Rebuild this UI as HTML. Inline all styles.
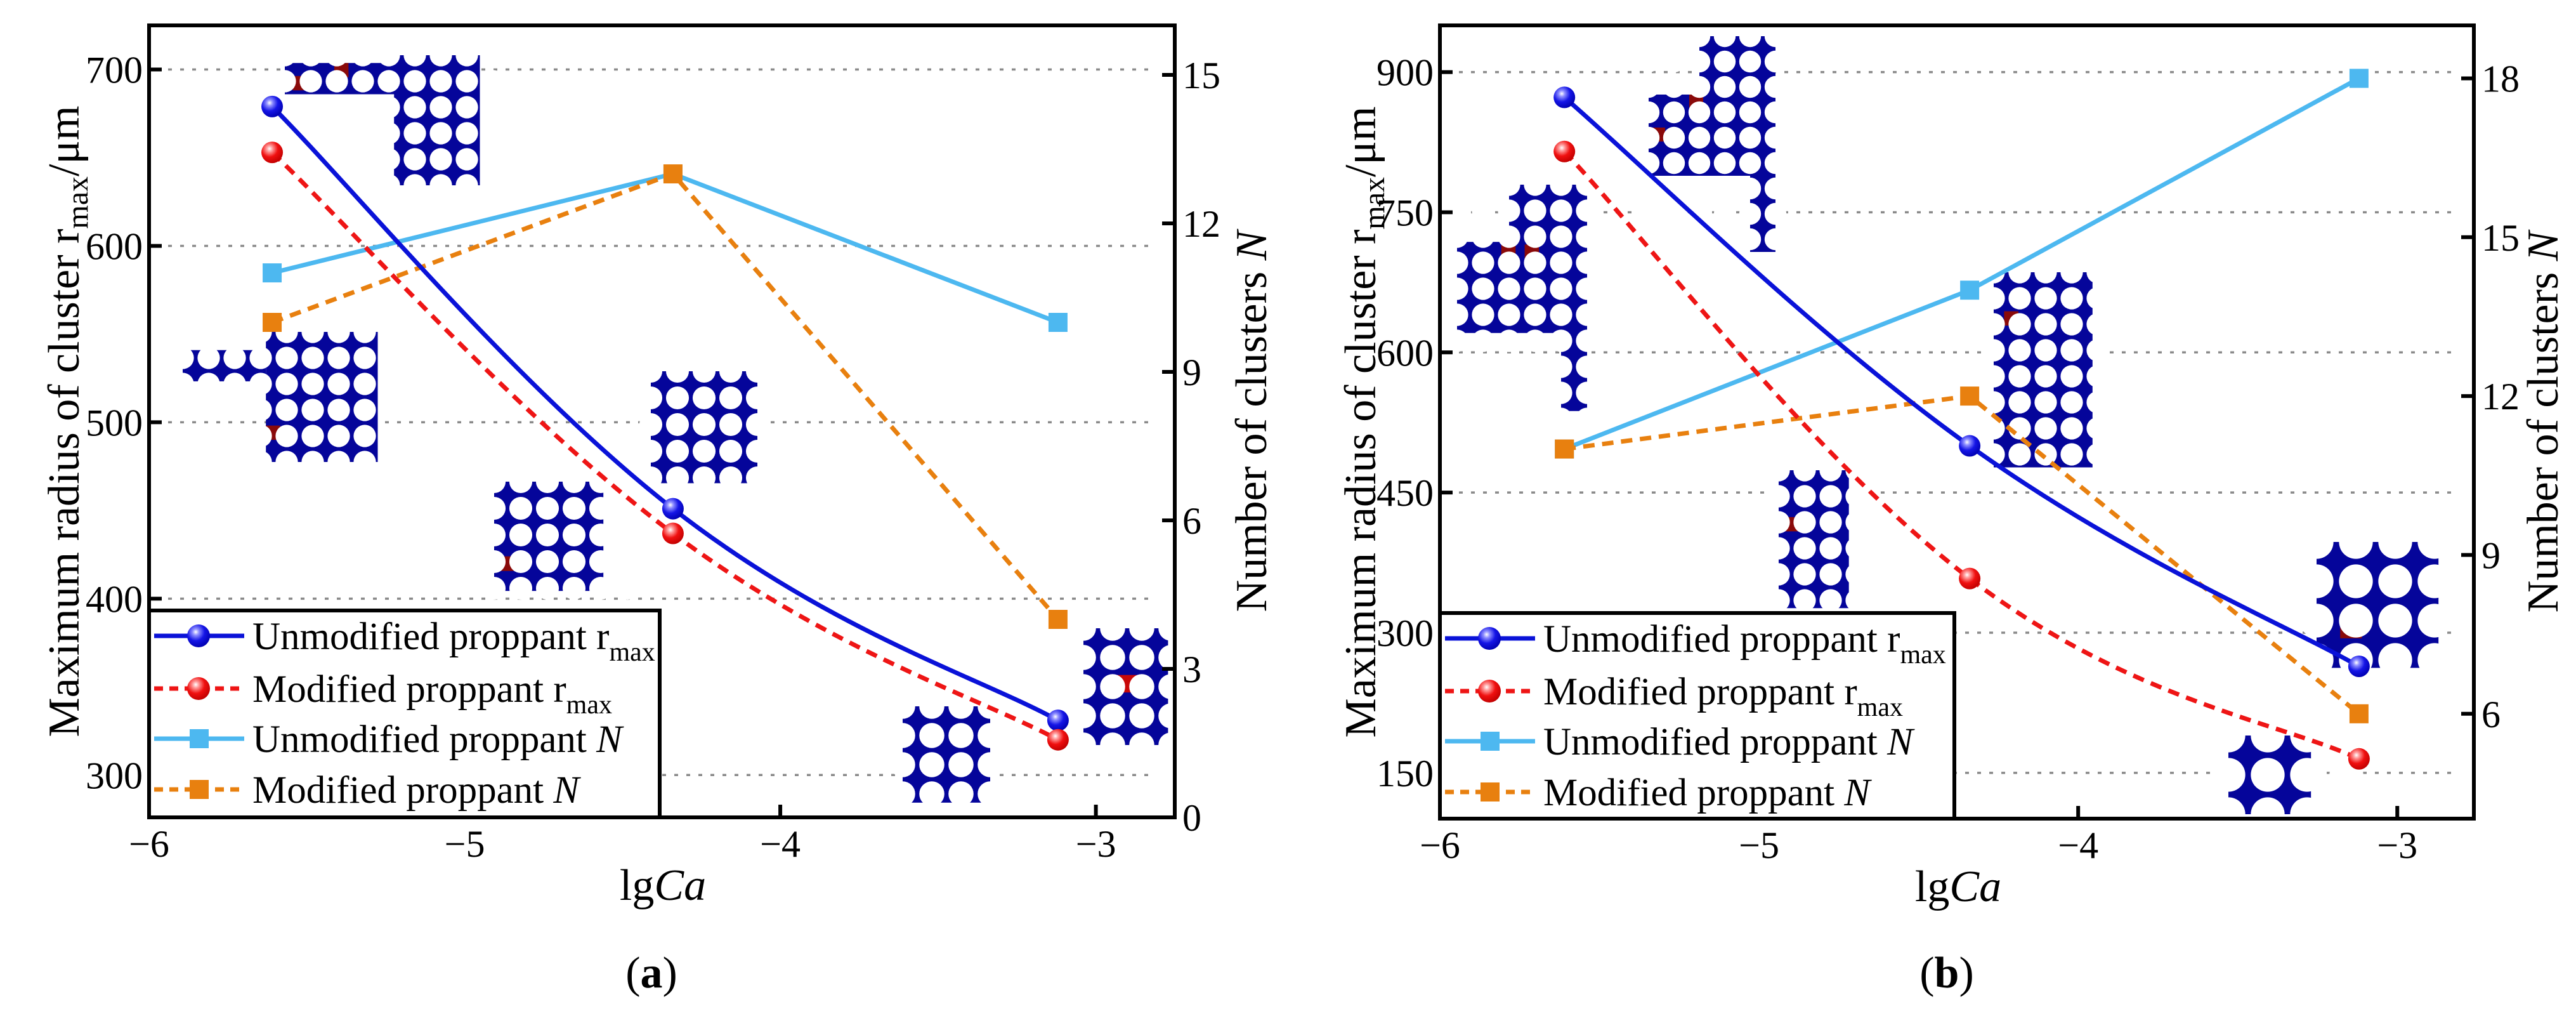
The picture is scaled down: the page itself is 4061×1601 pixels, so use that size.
<!DOCTYPE html>
<html><head><meta charset="utf-8">
<style>
html,body{margin:0;padding:0;background:#fff;}
svg{display:block;font-family:"Liberation Serif",serif;}
</style></head>
<body>
<svg id="fig" width="4061" height="1601" viewBox="0 0 4061 1601" xmlns="http://www.w3.org/2000/svg">
<defs>
<radialGradient id="gBlue" cx="0.38" cy="0.33" r="0.7">
<stop offset="0" stop-color="#ffffff"/><stop offset="0.2" stop-color="#8f8fff"/><stop offset="0.55" stop-color="#1515e6"/><stop offset="1" stop-color="#0000b0"/>
</radialGradient>
<radialGradient id="gRed" cx="0.38" cy="0.33" r="0.7">
<stop offset="0" stop-color="#ffffff"/><stop offset="0.2" stop-color="#ff9a9a"/><stop offset="0.55" stop-color="#f01010"/><stop offset="1" stop-color="#c00000"/>
</radialGradient>
</defs>
</svg>
<script>
// ---- Panel (a) data ----
const lgCaA = [-5.61, -4.34, -3.12];
const unmodRA = [679, 451, 331];
const modRA = [653, 437, 320];
const unmodNA = [11, 13, 10];
const modNA = [10, 13, 4];
const leftTicksA = [300, 400, 500, 600, 700];
const rightTicksA = [0, 3, 6, 9, 12, 15];
// ---- Panel (b) data ----
const lgCaB = [-5.61, -4.34, -3.12];
const unmodRB = [873, 500, 264];
const modRB = [815, 358, 165];
const unmodNB = [11, 14, 18];
const modNB = [11, 12, 6];
const leftTicksB = [150, 300, 450, 600, 750, 900];
const rightTicksB = [6, 9, 12, 15, 18];
const xTicks = [-6, -5, -4, -3];
const seriesNames = ["Unmodified proppant r", "Modified proppant r", "Unmodified proppant ", "Modified proppant "];

const NS = "http://www.w3.org/2000/svg";
const svg = document.getElementById("fig");
function mk(tag, attrs, parent) {
  const e = document.createElementNS(NS, tag);
  for (const k in attrs) e.setAttribute(k, attrs[k]);
  (parent || svg).appendChild(e);
  return e;
}

function cluster(g, x0, y0, s, rects, reds, redMid) {
  const cg = mk("g", {}, g);
  
  
  let minC = 1e9, minR = 1e9, maxC = -1e9, maxR = -1e9;
  rects.forEach(r => {
    mk("rect", {x: x0 + r[0]*s, y: y0 + r[1]*s, width: r[2]*s, height: r[3]*s, fill: "#05059a"}, cg);
    minC = Math.min(minC, r[0]); minR = Math.min(minR, r[1]);
    maxC = Math.max(maxC, r[0]+r[2]); maxR = Math.max(maxR, r[1]+r[3]);
  });
  (reds || []).forEach(p => {
    mk("rect", {x: x0 + p[0]*s, y: y0 + p[1]*s, width: s*0.55, height: s*0.55, fill: "#8a0a0a"}, cg);
  });
  if (redMid) mk("rect", {x: x0 + redMid[0]*s, y: y0 + redMid[1]*s, width: redMid[2]*s, height: redMid[3]*s, fill: "#c80808"}, cg);
  for (let c = Math.floor(minC); c <= Math.ceil(maxC); c++)
    for (let r = Math.floor(minR); r <= Math.ceil(maxR); r++)
      mk("circle", {cx: x0 + c*s, cy: y0 + r*s, r: s*0.43, fill: "#fff"}, cg);
}

function sphere(g, x, y, grad, name) {
  const c = mk("circle", {cx: x, cy: y, r: 17, fill: "url(#" + grad + ")"}, g);
  
  
}
function square(g, x, y, col, name) {
  const r = mk("rect", {x: x - 15, y: y - 15, width: 30, height: 30, fill: col}, g);
  
  
}
function smoothPath(pts) {
  let d = "M" + pts[0][0] + "," + pts[0][1];
  for (let i = 0; i < pts.length - 1; i++) {
    const p0 = pts[Math.max(0, i-1)], p1 = pts[i], p2 = pts[i+1], p3 = pts[Math.min(pts.length-1, i+2)];
    const t = 0.2;
    const c1 = [p1[0] + (p2[0]-p0[0])*t, p1[1] + (p2[1]-p0[1])*t];
    const c2 = [p2[0] - (p3[0]-p1[0])*t, p2[1] - (p3[1]-p1[1])*t];
    d += " C" + c1[0] + "," + c1[1] + " " + c2[0] + "," + c2[1] + " " + p2[0] + "," + p2[1];
  }
  return d;
}
function linePath(pts) { return "M" + pts.map(p => p[0] + "," + p[1]).join(" L"); }

function panel(cfg) {
  const g = mk("g", {});
  
  
  const L = cfg.L, R = cfg.R, T = cfg.T, B = cfg.B;
  const xs = v => L + (v - cfg.xMin) / (cfg.xMax - cfg.xMin) * (R - L);
  const yl = v => B - (v - cfg.yMin) / (cfg.yMax - cfg.yMin) * (B - T);
  const yr = v => B - (v - cfg.nMin) / (cfg.nMax - cfg.nMin) * (B - T);

  cfg.leftTicks.forEach(v => {
    const ln = mk("line", {x1: L + 30, x2: R - 30, y1: yl(v), y2: yl(v), stroke: "#8a8a8a", "stroke-width": 3.5, "stroke-dasharray": "6 13"}, g);
    
    
  });
  cfg.clusters.forEach(c => cluster(g, c[0], c[1], c[2], c[3], c[4], c[5]));

  const ptsUR = cfg.x.map((v, i) => [xs(v), yl(cfg.unmodR[i])]);
  const ptsMR = cfg.x.map((v, i) => [xs(v), yl(cfg.modR[i])]);
  const ptsUN = cfg.x.map((v, i) => [xs(v), yr(cfg.unmodN[i])]);
  const ptsMN = cfg.x.map((v, i) => [xs(v), yr(cfg.modN[i])]);
  let p;
  p = mk("path", {d: linePath(ptsUN), fill: "none", stroke: "#4db8f0", "stroke-width": 7}, g);
   
  p = mk("path", {d: linePath(ptsMN), fill: "none", stroke: "#e8800f", "stroke-width": 7, "stroke-dasharray": "18 12"}, g);
   
  p = mk("path", {d: smoothPath(ptsUR), fill: "none", stroke: "#0a12d8", "stroke-width": 7}, g);
   
  p = mk("path", {d: smoothPath(ptsMR), fill: "none", stroke: "#ee1515", "stroke-width": 7, "stroke-dasharray": "18 12"}, g);
   
  ptsUN.forEach(q => square(g, q[0], q[1], "#4db8f0", "unmodified-n-point"));
  ptsMN.forEach(q => square(g, q[0], q[1], "#e8800f", "modified-n-point"));
  ptsUR.forEach(q => sphere(g, q[0], q[1], "gBlue", "unmodified-rmax-point"));
  ptsMR.forEach(q => sphere(g, q[0], q[1], "gRed", "modified-rmax-point"));

  const fr = mk("rect", {x: L, y: T, width: R - L, height: B - T, fill: "none", stroke: "#000", "stroke-width": 6}, g);
   

  xTicks.forEach(v => {
    const x = xs(v);
    mk("line", {x1: x, x2: x, y1: B, y2: B - 20, stroke: "#000", "stroke-width": 6}, g);
    const t = mk("text", {x: x, y: B + 62, "font-size": 60, "text-anchor": "middle"}, g);
    t.textContent = "\u2212" + Math.abs(v);
     
  });
  cfg.leftTicks.forEach(v => {
    const y = yl(v);
    mk("line", {x1: L, x2: L + 20, y1: y, y2: y, stroke: "#000", "stroke-width": 6}, g);
    const t = mk("text", {x: L - 10, y: y + 21, "font-size": 60, "text-anchor": "end"}, g);
    t.textContent = v;
     
  });
  cfg.rightTicks.forEach(v => {
    const y = yr(v);
    mk("line", {x1: R, x2: R - 20, y1: y, y2: y, stroke: "#000", "stroke-width": 6}, g);
    const t = mk("text", {x: R + 12, y: y + 21, "font-size": 60, "text-anchor": "start"}, g);
    t.textContent = v;
     
  });
  let t = mk("text", {x: 0, y: 0, "font-size": 70, "text-anchor": "middle", transform: "translate(" + (cfg.ltX) + "," + ((T+B)/2) + ") rotate(-90)"}, g);
  t.innerHTML = 'Maximum radius of cluster r<tspan font-size="48" dy="14">max</tspan><tspan dy="-14">/μm</tspan>';
   
  t = mk("text", {x: 0, y: 0, "font-size": 70, "text-anchor": "middle", transform: "translate(" + (cfg.rtX) + "," + ((T+B)/2) + ") rotate(-90)"}, g);
  t.innerHTML = 'Number of clusters <tspan font-style="italic">N</tspan>';
   
  t = mk("text", {x: cfg.xtX, y: B + 130, "font-size": 70, "text-anchor": "middle"}, g);
  t.innerHTML = 'lg<tspan font-style="italic">Ca</tspan>';
   
  t = mk("text", {x: cfg.xtX - 18, y: 1556, "font-size": 70, "text-anchor": "middle"}, g);
  t.innerHTML = '(<tspan font-weight="bold">' + cfg.label + '</tspan>)';
   

  const lg = mk("g", {}, g);
   
  mk("rect", {x: L, y: cfg.legT, width: cfg.legR - L, height: B - cfg.legT, fill: "#fff", stroke: "#000", "stroke-width": 6}, lg);
  const rows = [60, 143, 222, 302];
  const styles = [
    {c: "#0a12d8", d: null, m: "s", g: "gBlue"},
    {c: "#ee1515", d: "14 10", m: "s", g: "gRed"},
    {c: "#4db8f0", d: null, m: "q"},
    {c: "#e8800f", d: "14 10", m: "q"}];
  rows.forEach((dy, i) => {
    const y = cfg.legT + dy - 20;
    const st = styles[i];
    const e = mk("g", {}, lg);
     
    const la = {x1: L + 8, x2: L + 150, y1: y, y2: y, stroke: st.c, "stroke-width": 7};
    if (st.d) la["stroke-dasharray"] = st.d;
    mk("line", la, e);
    if (st.m === "s") mk("circle", {cx: L + 78, cy: y, r: 18, fill: "url(#" + st.g + ")"}, e);
    else mk("rect", {x: L + 64, y: y - 15, width: 30, height: 30, fill: st.c}, e);
    const tx = mk("text", {x: L + 163, y: y + 21, "font-size": 61}, e);
    if (i < 2) tx.innerHTML = seriesNames[i] + '<tspan font-size="42" dy="18">max</tspan>';
    else tx.innerHTML = seriesNames[i] + '<tspan font-style="italic">N</tspan>';
  });
}

panel({
  name: "panel-a", label: "a", L: 235, R: 1852, T: 40, B: 1288,
  xMin: -6, xMax: -2.75, yMin: 276, yMax: 725, nMin: 0, nMax: 16.0,
  x: lgCaA, unmodR: unmodRA, modR: modRA, unmodN: unmodNA, modN: modNA,
  leftTicks: leftTicksA, rightTicks: rightTicksA,
  ltX: 124, rtX: 1996, xtX: 1045, legT: 962, legR: 1040,
  clusters: [
    [449, 87, 41, [[0,0.3,7.5,1.2],[4.2,0,3.3,5]], [[0.3,0.8],[1.9,0.3]]],
    [288, 523, 41, [[0,0.7,3.2,1.2],[3.2,0,4.3,5]], [[3.2,3.6]]],
    [779, 759, 42, [[0,0,4.1,4.1]], [[0.2,2.8]]],
    [1026, 585, 42, [[0,0,4,4.2]], []],
    [1423, 1113, 46, [[0,0,3,3.3]], []],
    [1708, 990, 46, [[0,0,2.9,4]], [], [0.9,1.6,1.2,0.6]]
  ]
});
panel({
  name: "panel-b", label: "b", L: 2270, R: 3900, T: 40, B: 1290,
  xMin: -6, xMax: -2.76, yMin: 101, yMax: 950, nMin: 4.02, nMax: 19.0,
  x: lgCaB, unmodR: unmodRB, modR: modRB, unmodN: unmodNB, modN: modNB,
  leftTicks: leftTicksB, rightTicks: rightTicksB,
  ltX: 2168, rtX: 4032, xtX: 3087, legT: 966, legR: 3081,
  clusters: [
    [2599, 57, 40, [[2,0,3,3],[0,2.3,5,3.2],[4,5,1,3.5]], [[1.6,2.3],[0.1,3.6]]],
    [2297, 291, 41, [[2,0,3,3],[0,2.2,5,3.5],[4,5.5,1,3.2]], [[1.7,2.2],[2.6,2.3]]],
    [2804, 741, 41, [[0,0,2.7,5.3]], [[0.2,1.8]]],
    [3143, 429, 41, [[0,0,3.8,7.5]], [[0.4,1.5]]],
    [3652, 854, 62, [[0,0,3.1,3.2]], [[0.6,1.9]]],
    [3513, 1159, 62, [[0,0,2.1,2.0]], []]
  ]
});
</script>
</body></html>
